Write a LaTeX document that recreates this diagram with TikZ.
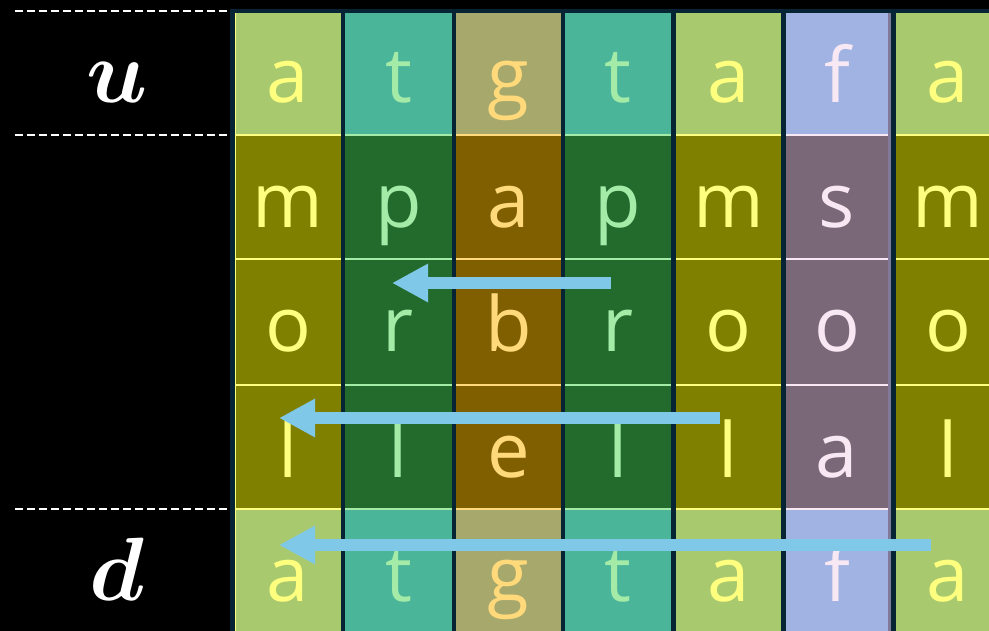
\RequirePackage{fix-cm}
\documentclass[tikz,border=0pt]{standalone}
\usepackage{bm}
\usepackage{fontspec}
\newfontfamily\cellfont{Open Sans}
\usetikzlibrary{arrows.meta}
\definecolor{navy}{HTML}{062433}
\definecolor{topY}{HTML}{A8C96E}
\definecolor{midY}{HTML}{7F7F00}
\definecolor{txtY}{HTML}{FFFF7F}
\definecolor{topG}{HTML}{4BB59A}
\definecolor{midG}{HTML}{226B2D}
\definecolor{txtG}{HTML}{A4EBA8}
\definecolor{topO}{HTML}{A6A86C}
\definecolor{midO}{HTML}{7F5F00}
\definecolor{txtO}{HTML}{FFD97A}
\definecolor{topP}{HTML}{A0B3E2}
\definecolor{midP}{HTML}{7A6878}
\definecolor{txtP}{HTML}{F8E8F4}
\definecolor{stripP}{HTML}{7F7A9A}
\definecolor{arrowblue}{HTML}{80C8E8}
\tikzset{
  letter/.style={anchor=base, inner sep=0pt, font=\cellfont\fontsize{76}{76}\selectfont},
  sidelabel/.style={anchor=base, inner sep=0pt, text=white, font=\fontsize{90}{90}\selectfont},
  guide/.style={white, line width=2pt, dash pattern=on 8pt off 4pt},
  sweep/.style={arrowblue, line width=12pt, -{Triangle[length=36pt,width=36pt]}}
}
\begin{document}
\begin{tikzpicture}[x=1pt,y=-1pt]
\useasboundingbox (0,0) rectangle (989,631);
\clip (0,0) rectangle (989,631);
\fill[black] (0,0) rectangle (989,631);
\fill[navy] (230,9) rectangle (989,631);
% dashed guides
\draw[guide] (15,11) -- (230,11);
\draw[guide] (15,135) -- (230,135);
\draw[guide] (15,509) -- (230,509);
% side labels
\node[sidelabel] (lu) at (117,103) {$\bm{u}$};
\node[sidelabel] (ld) at (117,600) {$\bm{d}$};
% columns
\foreach \L/\R/\g/\ta/\tb/\tc/\td/\te [count=\i] in
  {235/341/Y/a/m/o/l/a, 345/452/G/t/p/r/l/t, 456/561/O/g/a/b/e/g,
   565/671/G/t/p/r/l/t, 676/781/Y/a/m/o/l/a, 786/888/P/f/s/o/a/f,
   896/1000/Y/a/m/o/l/a}{
  \fill[top\g] (\L,13) rectangle (\R,134);
  \fill[mid\g] (\L,134) rectangle (\R,508);
  \fill[top\g] (\L,508) rectangle (\R,640);
  \foreach \yy in {135,259.5,384.5,509}{
    \draw[txt\g, line width=2pt] (\L,\yy) -- (\R,\yy);
  }
  \pgfmathsetmacro\cx{(\L+\R)/2}
  \node[letter, text=txt\g] (c\i r1) at (\cx,103) {\ta};
  \node[letter, text=txt\g] (c\i r2) at (\cx,228) {\tb};
  \node[letter, text=txt\g] (c\i r3) at (\cx,352) {\tc};
  \node[letter, text=txt\g] (c\i r4) at (\cx,477) {\td};
  \node[letter, text=txt\g] (c\i r5) at (\cx,601) {\te};
}
% yellow left edge of first column
\draw[txtY, line width=1.5pt] (235.5,13) -- (235.5,631);
% thin strip at right of purple column
\fill[stripP] (888,13) rectangle (891,631);
% arrows
\coordinate (a1s) at (610.5,283);
\coordinate (a1e) at (392,283);
\coordinate (a2s) at (720,418);
\coordinate (a2e) at (279,418);
\coordinate (a3s) at (931,545);
\coordinate (a3e) at (279,545);
\draw[sweep] (a1s) -- (a1e);
\draw[sweep] (a2s) -- (a2e);
\draw[sweep] (a3s) -- (a3e);
\end{tikzpicture}
\end{document}
